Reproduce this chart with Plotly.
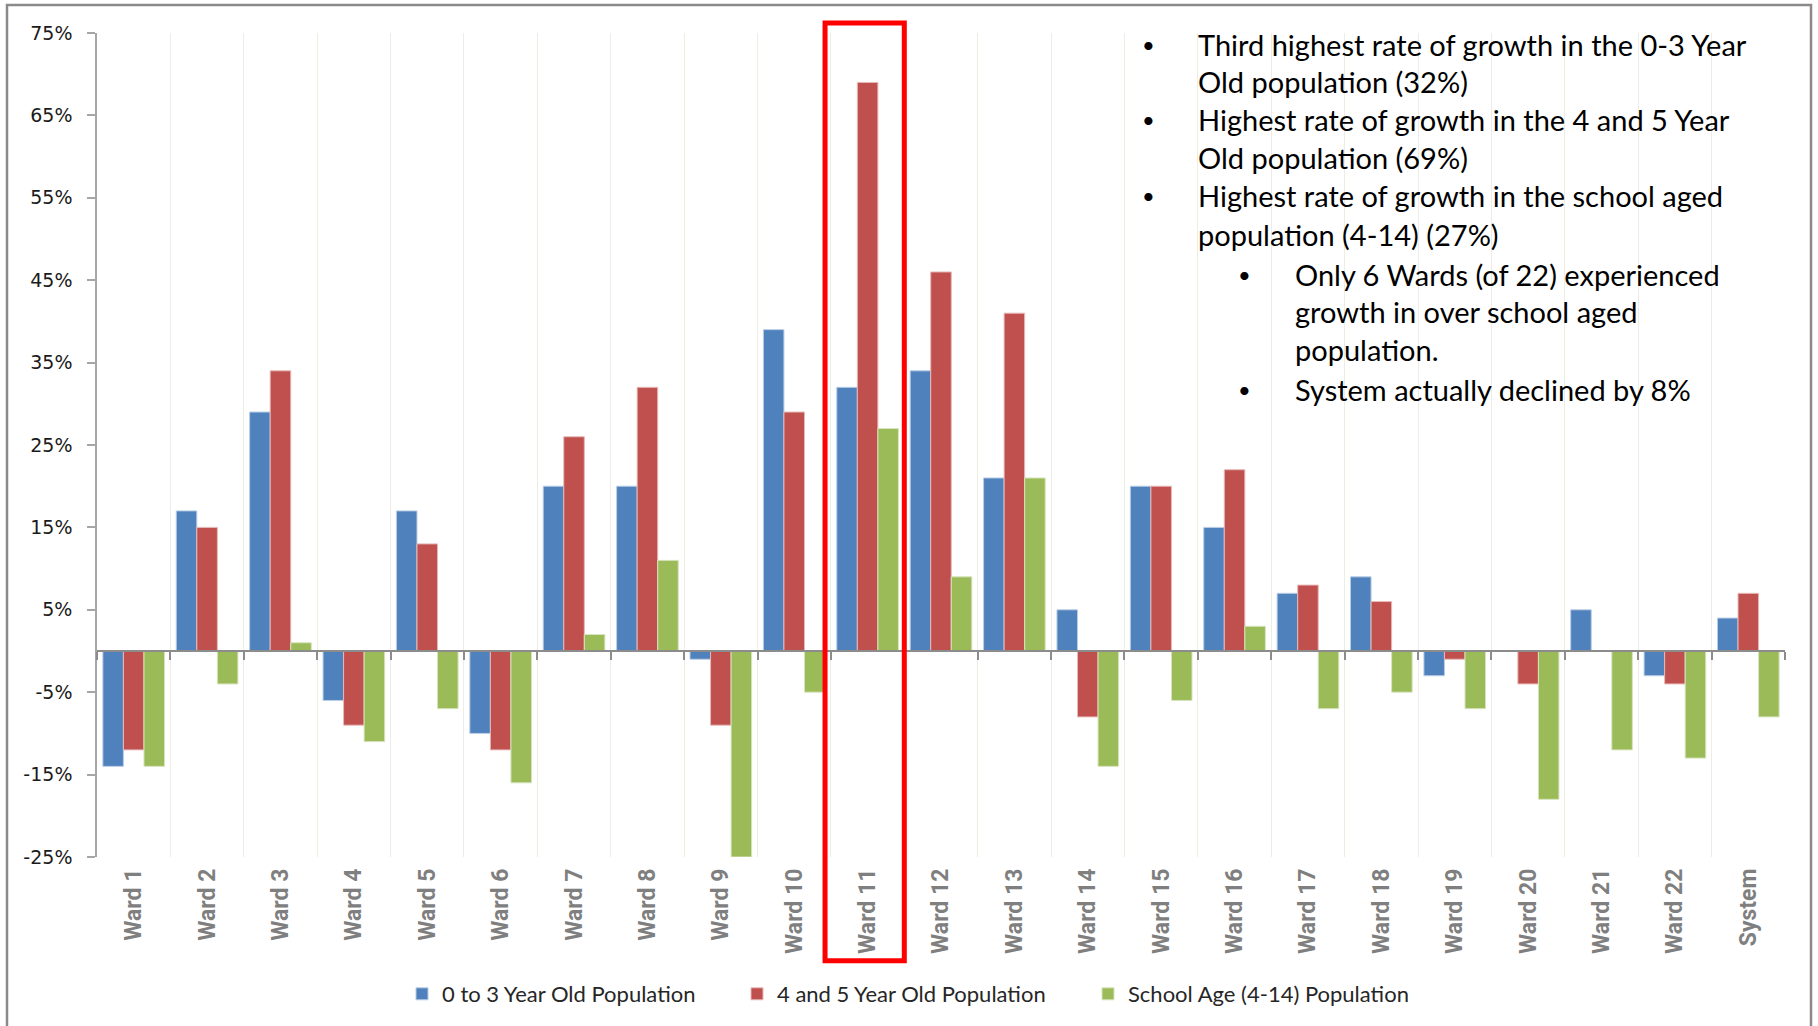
import plotly.graph_objects as go

# ---------------- data ----------------
categories = ["Ward 1", "Ward 2", "Ward 3", "Ward 4", "Ward 5", "Ward 6", "Ward 7", "Ward 8",
              "Ward 9", "Ward 10", "Ward 11", "Ward 12", "Ward 13", "Ward 14", "Ward 15",
              "Ward 16", "Ward 17", "Ward 18", "Ward 19", "Ward 20", "Ward 21", "Ward 22", "System"]

age_0_3 = [-0.14, 0.17, 0.29, -0.06, 0.17, -0.10, 0.20, 0.20, -0.01, 0.39, 0.32, 0.34, 0.21,
           0.05, 0.20, 0.15, 0.07, 0.09, -0.03, 0.00, 0.05, -0.03, 0.04]
age_4_5 = [-0.12, 0.15, 0.34, -0.09, 0.13, -0.12, 0.26, 0.32, -0.09, 0.29, 0.69, 0.46, 0.41,
           -0.08, 0.20, 0.22, 0.08, 0.06, -0.01, -0.04, 0.00, -0.04, 0.07]
school_age = [-0.14, -0.04, 0.01, -0.11, -0.07, -0.16, 0.02, 0.11, -0.25, -0.05, 0.27, 0.09, 0.21,
              -0.14, -0.06, 0.03, -0.07, -0.05, -0.07, -0.18, -0.12, -0.13, -0.08]

series_names = ["0 to 3 Year Old Population", "4 and 5 Year Old Population", "School Age (4-14) Population"]
series_colors = ["#4F81BD", "#C0504D", "#9BBB59"]
series_edges = ["#B9CDE5", "#E6B9B8", "#D7E4BD"]

y_ticks = [-0.25, -0.15, -0.05, 0.05, 0.15, 0.25, 0.35, 0.45, 0.55, 0.65, 0.75]
y_ticktext = ["-25%", "-15%", "-5%", "5%", "15%", "25%", "35%", "45%", "55%", "65%", "75%"]
y_min, y_max = -0.25, 0.75
highlight = "Ward 11"

notes = [
    (0, "Third highest rate of growth in the 0-3 Year", True),
    (0, "Old population (32%)", False),
    (0, "Highest rate of growth in the 4 and 5 Year", True),
    (0, "Old population (69%)", False),
    (0, "Highest rate of growth in the school aged", True),
    (0, "population (4-14) (27%)", False),
    (1, "Only 6 Wards (of 22) experienced", True),
    (1, "growth in over school aged", False),
    (1, "population.", False),
    (1, "System actually declined by 8%", True),
]

# ---------------- figure ----------------
W, H = 1818, 1026
L, R, T, B = 97, 33, 33, 168
PW, PH = W - L - R, H - T - B


def px(x):
    return (x - L) / PW


def py(y):
    return (H - B - y) / PH


fig = go.Figure()
legend_ids = ["legend", "legend2", "legend3"]
for name, vals, col, edge, lg in zip(series_names, [age_0_3, age_4_5, school_age],
                                     series_colors, series_edges, legend_ids):
    fig.add_trace(go.Bar(x=categories, y=vals, name=name, legend=lg,
                         marker=dict(color=col, line=dict(color=edge, width=1))))

# helper trace for the axis drawn through zero
fig.add_trace(go.Scatter(x=categories, y=[None] * len(categories), xaxis="x2",
                         showlegend=False, hoverinfo="skip", mode="lines"))

zero_pos = (0 - y_min) / (y_max - y_min)
n = len(categories)

leg_font = dict(family="Lato", size=22, color="#262626")
leg_common = dict(orientation="h", xanchor="left", y=py(994), yanchor="middle",
                  font=leg_font, bgcolor="rgba(0,0,0,0)")

fig.update_layout(
    width=W, height=H,
    margin=dict(l=L, r=R, t=T, b=B),
    paper_bgcolor="white", plot_bgcolor="white",
    barmode="group", bargap=0.16, bargroupgap=0,
    showlegend=True,
    legend=dict(x=px(402), **leg_common),
    legend2=dict(x=px(737), **leg_common),
    legend3=dict(x=px(1088), **leg_common),
    xaxis=dict(type="category", categoryorder="array", categoryarray=categories,
               range=[-0.5, n - 0.5], autorange=False,
               tickson="boundaries", showgrid=True, gridcolor="#EEEDE4", gridwidth=1.2,
               ticks="", showline=False, zeroline=False, tickangle=-90,
               ticklabelstandoff=6,
               tickfont=dict(family="Roboto", size=23, color="#7F7F7F", weight=700)),
    xaxis2=dict(type="category", overlaying="x", matches="x", anchor="free", position=zero_pos,
                tickson="boundaries", ticks="outside", ticklen=8, tickcolor="#8C8C8C", tickwidth=1.5,
                showline=True, linecolor="#8C8C8C", linewidth=1.5, showticklabels=False,
                showgrid=False, zeroline=False),
    yaxis=dict(range=[y_min, y_max], tickvals=y_ticks, ticktext=y_ticktext,
               showgrid=False, zeroline=False, showline=True, linecolor="#A6A6A6", linewidth=1.5,
               ticks="outside", ticklen=8, tickcolor="#A6A6A6", tickwidth=1.5,
               ticklabelstandoff=11,
               tickfont=dict(family="DejaVu Sans", size=19, color="#1A1A1A")),
)

# highlight box around Ward 11
hi = categories.index(highlight)
fig.add_shape(type="rect", xref="x", yref="paper", x0=hi - 0.58, x1=hi + 0.5,
              y0=py(962), y1=py(23), line=dict(color="#FF0000", width=5), layer="above")

# outer frame
fig.add_shape(type="rect", xref="paper", yref="paper", x0=px(7), x1=px(1811),
              y0=py(1040), y1=py(5), line=dict(color="#8A8A8A", width=2.5), layer="above")

# bullet notes
line_y = [45, 82, 120, 158, 196, 235, 275, 312, 350, 390]
for (lvl, txt, bullet), yy in zip(notes, line_y):
    bx = 1140 if lvl == 0 else 1236
    tx = 1196 if lvl == 0 else 1293
    if bullet:
        fig.add_annotation(x=px(bx), y=py(yy), xref="paper", yref="paper", text="•",
                           showarrow=False, xanchor="left", yanchor="middle",
                           font=dict(family="Lato", size=22, color="black"))
    fig.add_annotation(x=px(tx), y=py(yy), xref="paper", yref="paper", text=txt,
                       showarrow=False, xanchor="left", yanchor="middle",
                       font=dict(family="Lato", size=29, color="black"))

fig.write_html("out.html", config={"displayModeBar": False},
               post_script="document.body.style.margin='0px';")
